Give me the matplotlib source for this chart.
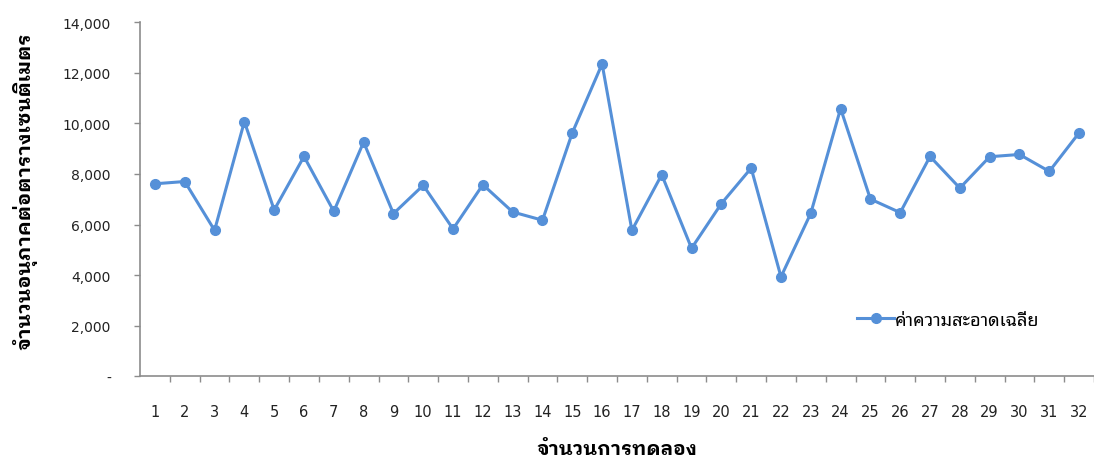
import matplotlib
matplotlib.use("Agg")
import matplotlib.pyplot as plt
from matplotlib.ticker import FuncFormatter, FixedLocator

THAI = ["Noto Sans Thai Looped", "DejaVu Sans"]
THAI_BOLD = ["IBM Plex Sans Thai Looped", "DejaVu Sans"]

# Data
trials = list(range(1, 33))
avg_clean = [7610, 7700, 5770, 10070, 6575, 8690, 6520, 9260, 6430, 7550,
             5825, 7575, 6495, 6170, 9625, 12350, 5770, 7970, 5060, 6825,
             8230, 3930, 6445, 10585, 7005, 6470, 8690, 7440, 8680, 8770,
             8100, 9625]
y_ticks = [0, 2000, 4000, 6000, 8000, 10000, 12000, 14000]

series_label = "ค่าความสะอาดเฉลี่ย"
x_label = "จำนวนการทดลอง"
y_label = "จำนวนอนุภาคต่อตารางเซนติเมตร"

LINE = "#5590D8"
AXIS = "#8C8C8C"

fig = plt.figure(figsize=(10.94, 4.64), dpi=100)
ax = fig.add_axes([0.128, 0.187, 0.872, 0.763])

ax.plot(trials, avg_clean, color=LINE, lw=2.2, marker="o", ms=7,
        mec=LINE, mfc=LINE, label=series_label)

ax.set_xlim(0.5, 32.5)
ax.set_ylim(0, 14000)

ax.set_xticks(trials)
ax.xaxis.set_minor_locator(FixedLocator([t + 0.5 for t in trials]))
ax.tick_params(axis="x", which="major", length=0, pad=20, labelsize=10.5,
               labelcolor="#222222")
ax.tick_params(axis="x", which="minor", length=4, color=AXIS, width=1)

ax.set_yticks(y_ticks)
ax.yaxis.set_major_formatter(FuncFormatter(lambda v, p: "-" if v == 0 else f"{int(v):,}"))
ax.tick_params(axis="y", length=4, color=AXIS, width=1, pad=17, labelsize=10,
               labelcolor="#222222")

for s in ("top", "right"):
    ax.spines[s].set_visible(False)
for s in ("left", "bottom"):
    ax.spines[s].set_color(AXIS)
    ax.spines[s].set_linewidth(1.2)

ax.set_xlabel(x_label, family=THAI_BOLD, fontsize=14, fontweight="bold")
ax.xaxis.set_label_coords(0.5, -0.18)
ax.set_ylabel(y_label, family=THAI_BOLD, fontsize=14.5, fontweight="bold")
ax.yaxis.set_label_coords(-0.107, 0.525)

leg = ax.legend(loc="center left", bbox_to_anchor=(0.735, 0.16), frameon=False,
                prop={"family": THAI, "size": 13}, handlelength=2.0,
                handletextpad=0.1)

fig.savefig("out.png", dpi=100, facecolor="white")
